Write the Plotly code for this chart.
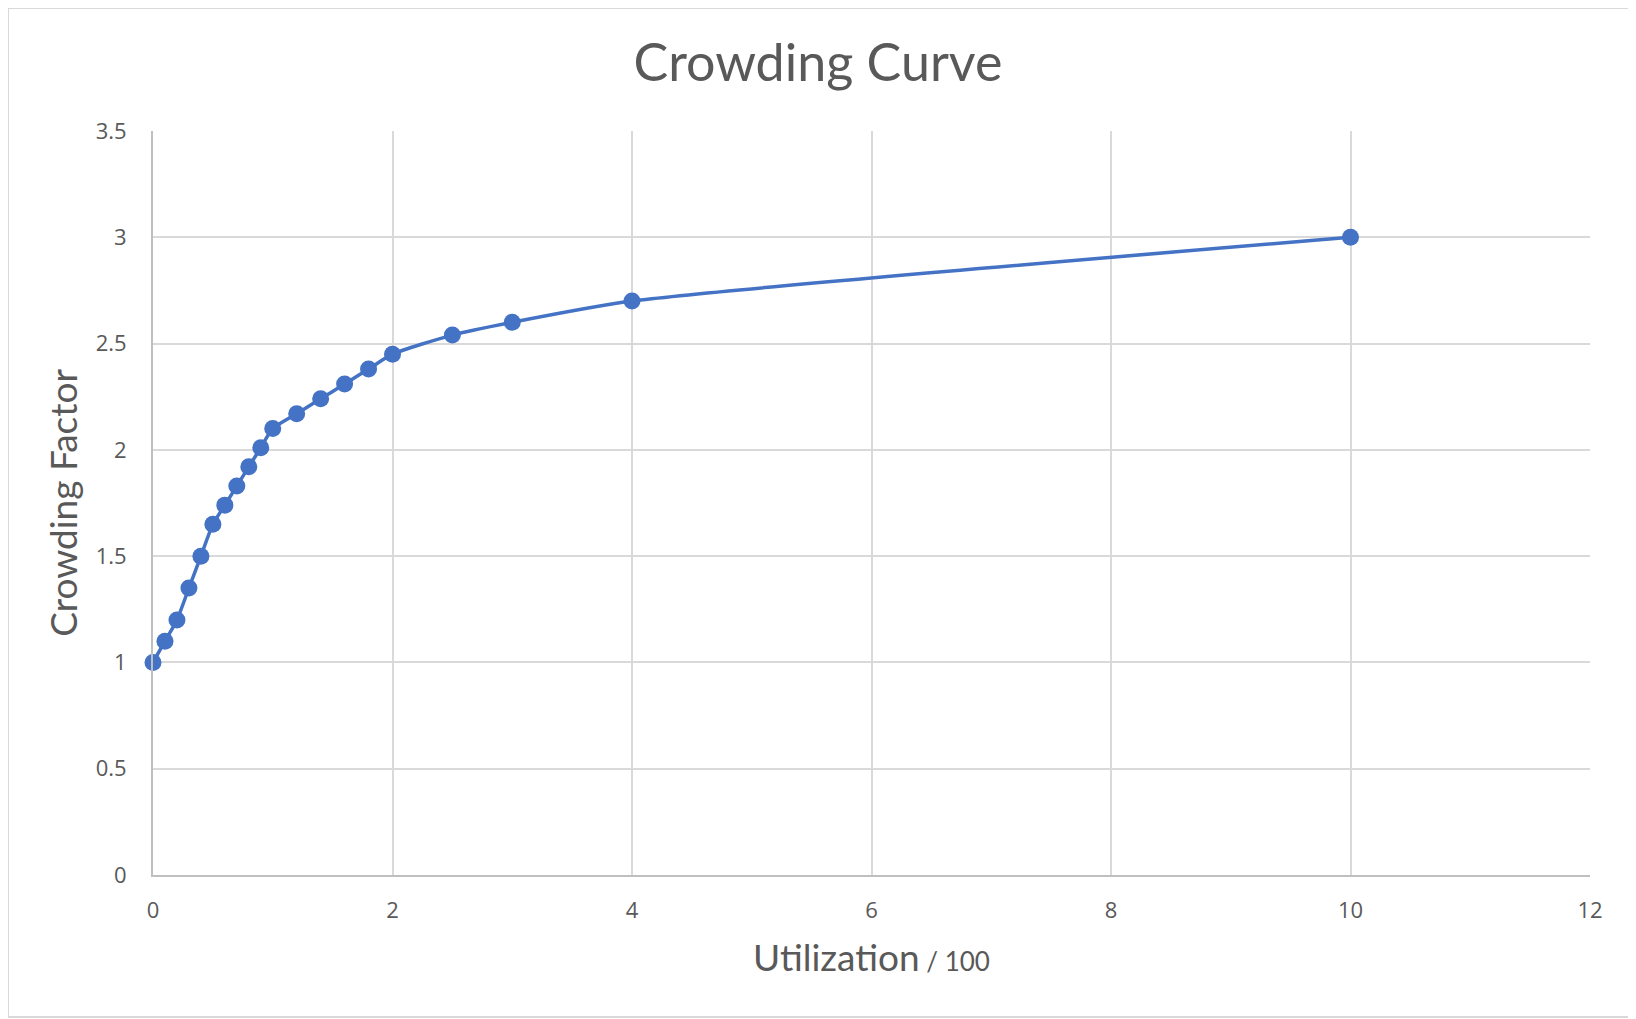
import plotly.graph_objects as go

utilization = [0, 0.1, 0.2, 0.3, 0.4, 0.5, 0.6, 0.7, 0.8, 0.9, 1.0, 1.2, 1.4, 1.6, 1.8, 2.0, 2.5, 3, 4, 10]
crowding = [1.0, 1.1, 1.2, 1.35, 1.5, 1.65, 1.74, 1.83, 1.92, 2.01, 2.1, 2.17, 2.24, 2.31, 2.38, 2.45, 2.54, 2.6, 2.7, 3.0]

x_ticks = [0, 2, 4, 6, 8, 10, 12]
y_ticks = [0, 0.5, 1, 1.5, 2, 2.5, 3, 3.5]

blue = "#4472C4"
tick_color = "#595959"
grid = "#D9D9D9"

W, H = 1636, 1019
L, T, PW, PH = 145, 123, 1437, 744

fig = go.Figure(go.Scatter(
    x=utilization, y=crowding, mode="lines+markers",
    line=dict(color=blue, width=3.5, shape="spline", smoothing=0.6),
    marker=dict(color=blue, size=17),
    showlegend=False, cliponaxis=False,
))

fig.update_layout(
    width=W, height=H,
    margin=dict(l=L, r=W - L - PW, t=T, b=H - T - PH),
    paper_bgcolor="white", plot_bgcolor="white",
    title=dict(text="Crowding Curve", x=810 / W, xanchor="center", y=1 - 55 / H, yanchor="middle",
               font=dict(family="Lato", size=52, color=tick_color)),
    font=dict(family="Open Sans", color=tick_color),
)
fig.update_xaxes(
    range=[0, 12], tickvals=x_ticks, ticktext=[str(v) for v in x_ticks],
    showgrid=True, gridcolor=grid, gridwidth=2,
    showline=True, linecolor="#BFBFBF", linewidth=2,
    zeroline=False, ticks="", ticklabelstandoff=15,
    tickfont=dict(family="Open Sans", size=22, color=tick_color),
    title=dict(text="Utilization<span style='font-size:26px'> / 100</span>",
               font=dict(family="Lato", size=37, color=tick_color), standoff=22),
)
fig.update_yaxes(
    range=[0, 3.5], tickvals=y_ticks, ticktext=[str(v) for v in y_ticks],
    showgrid=True, gridcolor=grid, gridwidth=2,
    showline=True, linecolor="#BFBFBF", linewidth=2,
    zeroline=False, ticks="", ticklabelstandoff=20,
    tickfont=dict(family="Open Sans", size=22, color=tick_color),
    title=dict(text="Crowding Factor", font=dict(family="Lato", size=37, color=tick_color), standoff=7),
)
fig.add_shape(type="rect", xref="paper", yref="paper",
              x0=-L / PW, x1=1 + (W - L - PW - 10) / PW, y0=-(H - T - PH - 10) / PH, y1=1 + T / PH,
              line=dict(color="#D9D9D9", width=2), layer="below")

fig.write_html("out.html")
